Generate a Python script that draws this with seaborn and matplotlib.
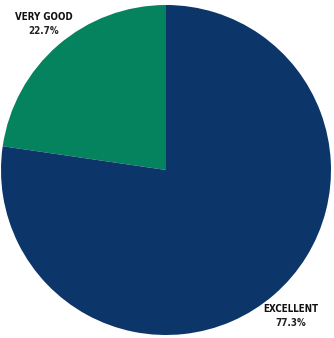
import matplotlib
matplotlib.use("Agg")
import matplotlib.pyplot as plt
import seaborn as sns

categories = ["VERY GOOD", "EXCELLENT"]
values = [22.7, 77.3]
colors = ["#05835f", "#0c356a"]

sns.set_theme(style="white")
plt.rcParams['font.family'] = ['DejaVu Sans']

W, H = 334, 338
fig = plt.figure(figsize=(W / 100, H / 100), dpi=100)
cx, cy, r = 166, 170, 165
ax = fig.add_axes([(cx - r) / W, (H - cy - r) / H, 2 * r / W, 2 * r / H])
ax.pie(values, colors=colors, startangle=90, counterclock=True,
       wedgeprops=dict(linewidth=0))
ax.set_aspect("equal")
ax.set_xlim(-1, 1)
ax.set_ylim(-1, 1)
ax.axis("off")

label_pos = {"VERY GOOD": (44, 17), "EXCELLENT": (291, 309)}
for cat, v in zip(categories, values):
    x, y = label_pos[cat]
    fig.text(x / W, 1 - y / H, cat, ha="center", va="center",
             fontsize=7, fontweight="bold", fontstretch="condensed",
             color="#111111")
    fig.text(x / W, 1 - (y + 14) / H, f"{v:.1f}%", ha="center", va="center",
             fontsize=7, fontweight="bold", fontstretch="condensed",
             color="#222222")

fig.savefig("out.png", dpi=100)
